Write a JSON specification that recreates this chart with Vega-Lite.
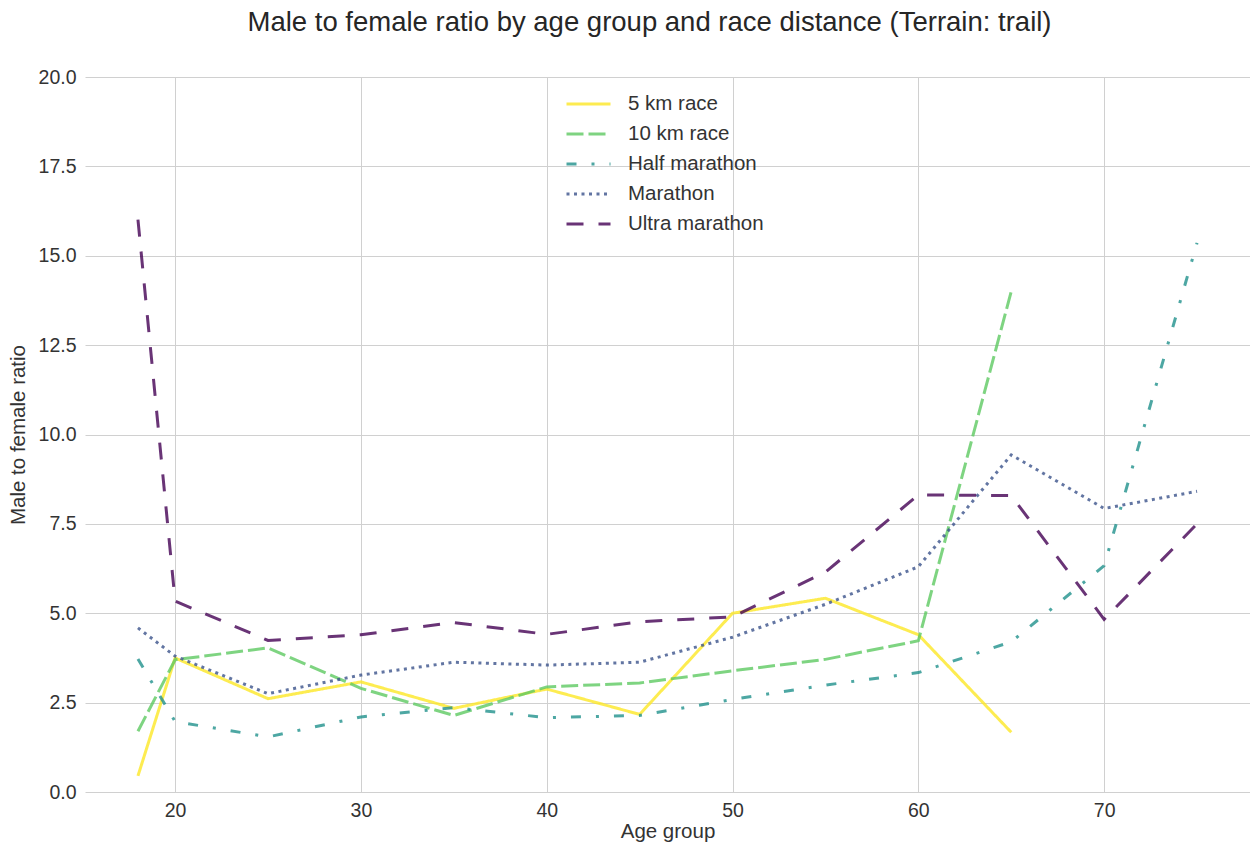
{
  "$schema": "https://vega.github.io/schema/vega-lite/v6.json",
  "width": 1165,
  "height": 715,
  "autosize": {"type": "none"},
  "padding": {"left": 85, "top": 77, "right": 0, "bottom": 54},
  "background": "white",
  "config": {
    "font": "Liberation Sans",
    "view": {"stroke": null},
    "axis": {"gridColor": "#d0d0d0", "gridWidth": 1, "domain": false, "ticks": false, "labelColor": "#333333", "titleColor": "#333333", "labelFontSize": 19.5, "titleFontSize": 20.5, "titleFontWeight": "normal", "labelFont": "Liberation Sans", "titleFont": "Liberation Sans"}
  },
  "title": {"text": "Male to female ratio by age group and race distance (Terrain: trail)", "fontSize": 27.5, "fontWeight": "normal", "color": "#262626", "font": "Liberation Sans", "anchor": "middle", "offset": 31, "dx": -18},
  "data": {"values": [
    {"age": 18, "race": "5 km race", "ratio": 0.45},
    {"age": 20, "race": "5 km race", "ratio": 3.75},
    {"age": 25, "race": "5 km race", "ratio": 2.61},
    {"age": 30, "race": "5 km race", "ratio": 3.08},
    {"age": 35, "race": "5 km race", "ratio": 2.34},
    {"age": 40, "race": "5 km race", "ratio": 2.88},
    {"age": 45, "race": "5 km race", "ratio": 2.17},
    {"age": 50, "race": "5 km race", "ratio": 5.0},
    {"age": 55, "race": "5 km race", "ratio": 5.42},
    {"age": 60, "race": "5 km race", "ratio": 4.4},
    {"age": 65, "race": "5 km race", "ratio": 1.67},
    {"age": 18, "race": "10 km race", "ratio": 1.7},
    {"age": 20, "race": "10 km race", "ratio": 3.7},
    {"age": 25, "race": "10 km race", "ratio": 4.03},
    {"age": 30, "race": "10 km race", "ratio": 2.9},
    {"age": 35, "race": "10 km race", "ratio": 2.14},
    {"age": 40, "race": "10 km race", "ratio": 2.94},
    {"age": 45, "race": "10 km race", "ratio": 3.05},
    {"age": 50, "race": "10 km race", "ratio": 3.39},
    {"age": 55, "race": "10 km race", "ratio": 3.71},
    {"age": 60, "race": "10 km race", "ratio": 4.23},
    {"age": 65, "race": "10 km race", "ratio": 14.0},
    {"age": 18, "race": "Half marathon", "ratio": 3.72},
    {"age": 20, "race": "Half marathon", "ratio": 1.97},
    {"age": 25, "race": "Half marathon", "ratio": 1.54},
    {"age": 30, "race": "Half marathon", "ratio": 2.1},
    {"age": 35, "race": "Half marathon", "ratio": 2.36},
    {"age": 40, "race": "Half marathon", "ratio": 2.08},
    {"age": 45, "race": "Half marathon", "ratio": 2.14},
    {"age": 50, "race": "Half marathon", "ratio": 2.59},
    {"age": 55, "race": "Half marathon", "ratio": 2.99},
    {"age": 60, "race": "Half marathon", "ratio": 3.34},
    {"age": 65, "race": "Half marathon", "ratio": 4.2},
    {"age": 70, "race": "Half marathon", "ratio": 6.33},
    {"age": 75, "race": "Half marathon", "ratio": 15.36},
    {"age": 18, "race": "Marathon", "ratio": 4.59},
    {"age": 20, "race": "Marathon", "ratio": 3.8},
    {"age": 25, "race": "Marathon", "ratio": 2.75},
    {"age": 30, "race": "Marathon", "ratio": 3.27},
    {"age": 35, "race": "Marathon", "ratio": 3.63},
    {"age": 40, "race": "Marathon", "ratio": 3.55},
    {"age": 45, "race": "Marathon", "ratio": 3.63},
    {"age": 50, "race": "Marathon", "ratio": 4.33},
    {"age": 55, "race": "Marathon", "ratio": 5.25},
    {"age": 60, "race": "Marathon", "ratio": 6.3},
    {"age": 65, "race": "Marathon", "ratio": 9.43},
    {"age": 70, "race": "Marathon", "ratio": 7.93},
    {"age": 75, "race": "Marathon", "ratio": 8.41},
    {"age": 18, "race": "Ultra marathon", "ratio": 16.01},
    {"age": 20, "race": "Ultra marathon", "ratio": 5.34},
    {"age": 25, "race": "Ultra marathon", "ratio": 4.24},
    {"age": 30, "race": "Ultra marathon", "ratio": 4.4},
    {"age": 35, "race": "Ultra marathon", "ratio": 4.74},
    {"age": 40, "race": "Ultra marathon", "ratio": 4.41},
    {"age": 45, "race": "Ultra marathon", "ratio": 4.76},
    {"age": 50, "race": "Ultra marathon", "ratio": 4.9},
    {"age": 55, "race": "Ultra marathon", "ratio": 6.15},
    {"age": 60, "race": "Ultra marathon", "ratio": 8.31},
    {"age": 65, "race": "Ultra marathon", "ratio": 8.29},
    {"age": 70, "race": "Ultra marathon", "ratio": 4.83},
    {"age": 75, "race": "Ultra marathon", "ratio": 7.5}
  ]},
  "mark": {"type": "line", "strokeWidth": 3, "strokeOpacity": 0.8, "strokeCap": "butt"},
  "encoding": {
    "x": {"field": "age", "type": "quantitative", "title": "Age group",
      "scale": {"domain": [15.15, 77.85], "nice": false, "zero": false},
      "axis": {"values": [20, 30, 40, 50, 60, 70], "labelPadding": 9, "titlePadding": 2}},
    "y": {"field": "ratio", "type": "quantitative", "title": "Male to female ratio",
      "scale": {"domain": [0, 20], "nice": false},
      "axis": {"values": [0, 2.5, 5, 7.5, 10, 12.5, 15, 17.5, 20], "format": ".1f", "labelPadding": 9, "titlePadding": 10}},
    "color": {"field": "race", "type": "nominal",
      "scale": {"domain": ["5 km race", "10 km race", "Half marathon", "Marathon", "Ultra marathon"], "range": ["#fde725", "#5ec962", "#21918c", "#3b528b", "#440154"]},
      "legend": {"title": null, "orient": "none", "legendX": 480, "legendY": 12, "symbolType": "stroke", "symbolSize": 1936, "symbolStrokeWidth": 3, "symbolOpacity": 0.8, "labelFontSize": 20.5, "labelColor": "#333333", "labelOffset": 16, "rowPadding": 0, "clipHeight": 30}},
    "strokeDash": {"field": "race", "type": "nominal",
      "scale": {"domain": ["5 km race", "10 km race", "Half marathon", "Marathon", "Ultra marathon"], "range": [[1, 0], [17, 5], [10, 15, 3, 15], [3, 4.5], [17, 15]]},
      "legend": {"title": null, "orient": "none", "legendX": 480, "legendY": 12, "symbolType": "stroke", "symbolSize": 1936, "symbolStrokeWidth": 3, "symbolOpacity": 0.8, "labelFontSize": 20.5, "labelColor": "#333333", "labelOffset": 16, "rowPadding": 0, "clipHeight": 30}}
  }
}
